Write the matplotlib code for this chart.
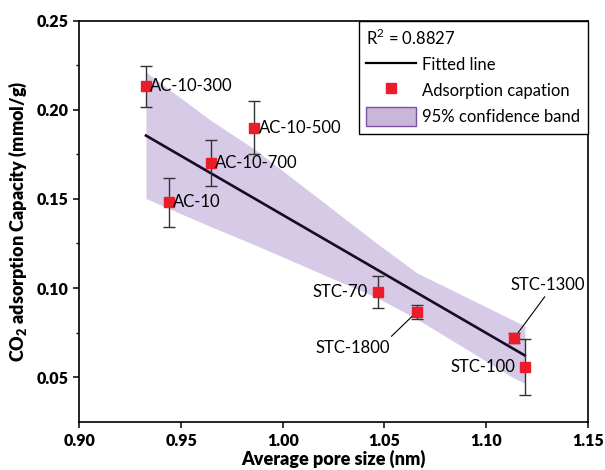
import matplotlib
matplotlib.use('Agg')
import matplotlib.pyplot as plt
from matplotlib.lines import Line2D
from matplotlib.patches import Patch
import numpy as np

# samples
names = ['AC-10-300', 'AC-10', 'AC-10-700', 'AC-10-500', 'STC-70', 'STC-1800', 'STC-1300', 'STC-100']
pore_size = [0.9327, 0.944, 0.9647, 0.986, 1.0467, 1.066, 1.1138, 1.1191]
capacity = [0.2132, 0.148, 0.170, 0.190, 0.098, 0.0867, 0.0719, 0.0558]
capacity_err = [0.0115, 0.014, 0.013, 0.015, 0.009, 0.004, 0.003, 0.0158]

# fitted line and confidence band as drawn
fit_slope = -0.662
fit_intercept = 0.803
r_squared = 0.8827
band_upper = [0.2211, 0.2115, 0.1940, 0.178, 0.1247, 0.1085, 0.0817, 0.0787]
band_lower = [0.1502, 0.1446, 0.1344, 0.1243, 0.0944, 0.0826, 0.0494, 0.0466]

band_face = '#d6cae6'
marker_red = '#ec1c2a'

plt.rcParams['font.family'] = ['Lato', 'DejaVu Sans']
plt.rcParams['mathtext.fontset'] = 'custom'
plt.rcParams['mathtext.rm'] = 'Lato'
plt.rcParams['mathtext.bf'] = 'Lato:heavy'

fig = plt.figure(figsize=(6.05, 4.70), dpi=100)
ax = fig.add_axes([0.1314, 0.1028, 0.9714 - 0.1314, 0.956 - 0.1028])

ax.fill_between(pore_size, band_lower, band_upper, color=band_face, lw=0, zorder=1)

x_fit = np.array([min(pore_size), max(pore_size)])
ax.plot(x_fit, fit_slope * x_fit + fit_intercept, color='#150c25', lw=1.9, zorder=2)

ax.errorbar(pore_size, capacity, yerr=capacity_err, fmt='none', ecolor='#333333',
            elinewidth=1.0, capsize=4, capthick=1.0, zorder=3)
ax.plot(pore_size, capacity, 's', color=marker_red, ms=7, zorder=4, ls='none')

lab_fs = 12
for i, name in enumerate(names):
    xy = (pore_size[i], capacity[i])
    if name.startswith('AC'):
        ax.annotate(name, xy, xytext=(3, 0), textcoords='offset points',
                    ha='left', va='center', fontsize=lab_fs, zorder=5)
    elif name in ('STC-70', 'STC-100'):
        ax.annotate(name, xy, xytext=(-7, 0), textcoords='offset points',
                    ha='right', va='center', fontsize=lab_fs, zorder=5)
    elif name == 'STC-1800':
        ax.annotate(name, xy, xytext=(1.0343, 0.0663), ha='center', va='center',
                    fontsize=lab_fs, zorder=5,
                    arrowprops=dict(arrowstyle='-', color='black', lw=0.8,
                                    relpos=(0.97, 1.0), shrinkA=1, shrinkB=5))
    else:
        ax.annotate(name, xy, xytext=(1.1303, 0.1018), ha='center', va='center',
                    fontsize=lab_fs, zorder=5,
                    arrowprops=dict(arrowstyle='-', color='black', lw=0.8,
                                    relpos=(0.5, 0.0), shrinkA=1, shrinkB=5))

ax.set_xlim(0.90, 1.15)
ax.set_ylim(0.025, 0.25)
ax.set_xticks([0.90, 0.95, 1.00, 1.05, 1.10, 1.15])
ax.set_yticks([0.05, 0.10, 0.15, 0.20, 0.25])
ax.set_yticks([0.075, 0.125, 0.175, 0.225], minor=True)
ax.xaxis.set_major_formatter(plt.FormatStrFormatter('%.2f'))
ax.yaxis.set_major_formatter(plt.FormatStrFormatter('%.2f'))
ax.tick_params(which='major', direction='out', length=4.5, width=1.1, labelsize=11.5)
ax.tick_params(which='minor', direction='out', length=2.5, width=1.0)
for lbl in ax.get_xticklabels() + ax.get_yticklabels():
    lbl.set_fontweight('heavy')
for sp in ax.spines.values():
    sp.set_linewidth(1.2)

ax.set_xlabel('Average pore size (nm)', fontsize=13, fontweight='heavy', labelpad=1)
ax.set_ylabel(r'CO$_\mathbf{2}$ adsorption Capacity (mmol/g)', fontsize=13,
              fontweight='heavy', labelpad=5)

handles = [
    Line2D([], [], color='black', lw=1.6),
    Line2D([], [], marker='s', color=marker_red, ls='none', ms=7),
    Patch(facecolor='#cbb6db', edgecolor='#7b4fa3', lw=1.0),
]
labels = ['Fitted line', 'Adsorption capation', '95% confidence band']
leg = ax.legend(handles, labels, loc='upper right', bbox_to_anchor=(1.0, 1.0),
                borderaxespad=0, fancybox=False, framealpha=1, edgecolor='black',
                fontsize=12, title='R$^2$ = %.4f' % r_squared, title_fontsize=12,
                alignment='left', handlelength=3.0, handleheight=1.4,
                handletextpad=0.35, labelspacing=0.4, borderpad=0.45)
leg.get_frame().set_linewidth(1.0)

fig.savefig('out.png', dpi=100)
